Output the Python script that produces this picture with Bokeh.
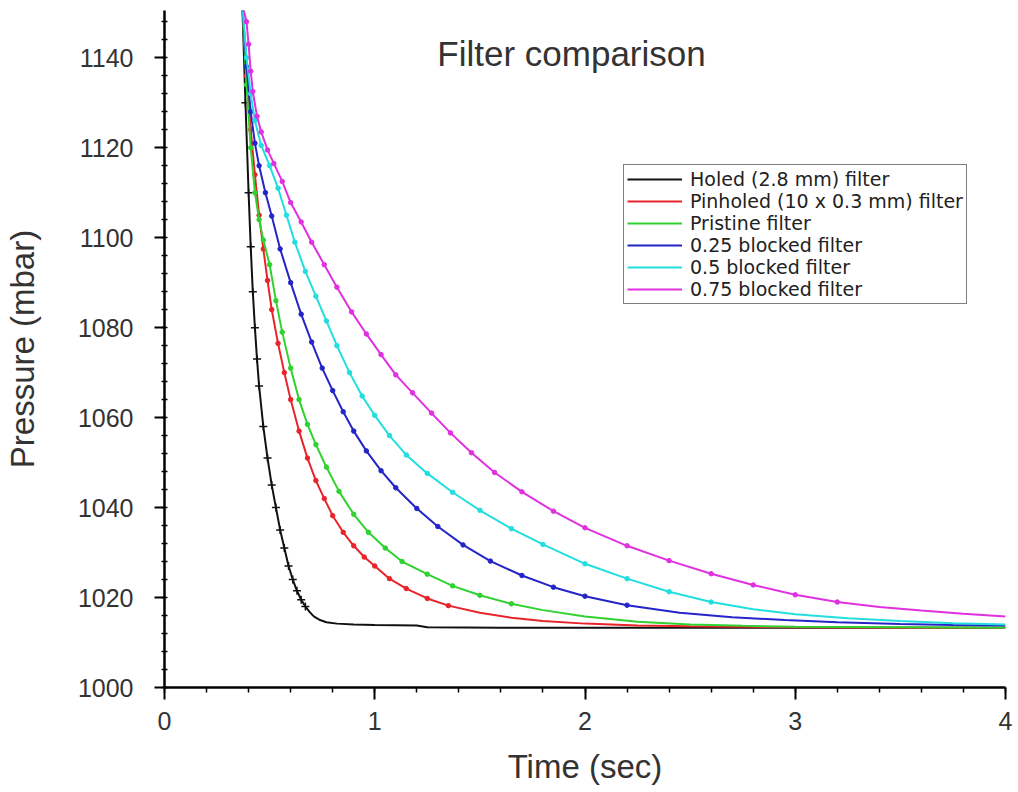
from bokeh.plotting import figure
from bokeh.models import Legend, LegendItem, Label, SingleIntervalTicker, Range1d
from bokeh.embed import file_html
from bokeh.resources import INLINE

# ---------------- data ----------------
series_names = ["Holed (2.8 mm) filter", "Pinholed (10 x 0.3 mm) filter", "Pristine filter",
                "0.25 blocked filter", "0.5 blocked filter", "0.75 blocked filter"]
series_colors = ["#111111", "#e8242a", "#2fd22f", "#2424c8", "#22dede", "#e030e0"]

holed_t = [0.37, 0.385, 0.40, 0.41, 0.42, 0.43, 0.44, 0.45, 0.47, 0.49, 0.51, 0.53, 0.55, 0.57, 0.59,
           0.61, 0.63, 0.65, 0.67, 0.69, 0.71, 0.74, 0.77, 0.82, 0.90, 1.00, 1.20, 1.25, 1.60, 2.0,
           2.5, 3.0, 3.5, 4.0]
holed_p = [1152, 1130, 1110, 1098, 1088, 1080, 1073, 1067, 1058, 1051, 1045, 1040, 1035, 1031, 1027,
           1024, 1021.5, 1019.5, 1018, 1016.8, 1015.8, 1015, 1014.5, 1014.2, 1014, 1013.9, 1013.8,
           1013.4, 1013.3, 1013.3, 1013.3, 1013.3, 1013.3, 1013.3]

pinholed_t = [0.37, 0.39, 0.41, 0.43, 0.45, 0.47, 0.49, 0.51, 0.54, 0.57, 0.60, 0.64, 0.68, 0.72, 0.76,
              0.80, 0.85, 0.90, 0.95, 1.00, 1.07, 1.15, 1.25, 1.35, 1.50, 1.65, 1.80, 2.0, 2.25, 2.5,
              3.0, 3.5, 4.0]
pinholed_p = [1152, 1136, 1124, 1114, 1105, 1097.5, 1090.5, 1084, 1076.5, 1070, 1064, 1057, 1051, 1046,
              1042, 1038.2, 1034.5, 1031.5, 1029, 1027, 1024.2, 1022, 1019.8, 1018.2, 1016.6, 1015.5,
              1014.8, 1014.2, 1013.8, 1013.6, 1013.4, 1013.3, 1013.3]

pristine_t = [0.37, 0.39, 0.41, 0.43, 0.45, 0.47, 0.50, 0.53, 0.56, 0.60, 0.64, 0.68, 0.72, 0.77, 0.83,
              0.90, 0.97, 1.05, 1.13, 1.25, 1.37, 1.50, 1.65, 1.80, 2.0, 2.25, 2.5, 2.75, 3.0, 3.5, 4.0]
pristine_p = [1152, 1134, 1120, 1110, 1104, 1099.5, 1094, 1086, 1079, 1071, 1064, 1058.5, 1054, 1049,
              1043.6, 1038.5, 1034.5, 1031, 1028, 1025.2, 1022.6, 1020.5, 1018.6, 1017.2, 1015.8,
              1014.6, 1014.0, 1013.7, 1013.5, 1013.4, 1013.3]

blocked25_t = [0.37, 0.39, 0.41, 0.43, 0.45, 0.48, 0.51, 0.55, 0.60, 0.65, 0.70, 0.75, 0.80, 0.85, 0.90,
               0.96, 1.03, 1.10, 1.20, 1.30, 1.42, 1.55, 1.70, 1.85, 2.0, 2.2, 2.45, 2.7, 2.95, 3.2,
               3.5, 3.75, 4.0]
blocked25_p = [1152, 1138, 1128, 1121, 1116, 1110, 1104.8, 1097.5, 1090, 1083, 1076.8, 1071, 1066,
               1061.3, 1057, 1052.6, 1048.2, 1044.4, 1039.8, 1035.8, 1031.7, 1028.1, 1024.9, 1022.3,
               1020.3, 1018.3, 1016.6, 1015.6, 1015.0, 1014.5, 1014.1, 1013.9, 1013.8]

blocked50_t = [0.37, 0.39, 0.41, 0.43, 0.46, 0.50, 0.54, 0.58, 0.62, 0.67, 0.72, 0.77, 0.82, 0.88, 0.94,
               1.00, 1.07, 1.15, 1.25, 1.37, 1.50, 1.65, 1.80, 2.0, 2.2, 2.4, 2.6, 2.8, 3.0, 3.25,
               3.5, 3.75, 4.0]
blocked50_p = [1152, 1140, 1132, 1126, 1120.5, 1116, 1111, 1105, 1099, 1092.5, 1087, 1081.5, 1076,
               1070, 1064.8, 1060.5, 1056, 1051.7, 1047.6, 1043.4, 1039.4, 1035.3, 1031.8, 1027.5,
               1024.2, 1021.3, 1019, 1017.4, 1016.3, 1015.4, 1014.8, 1014.3, 1014.0]

blocked75_t = [0.37, 0.39, 0.40, 0.41, 0.42, 0.44, 0.46, 0.49, 0.52, 0.56, 0.60, 0.65, 0.70, 0.76, 0.82,
               0.89, 0.96, 1.03, 1.10, 1.18, 1.27, 1.36, 1.46, 1.57, 1.70, 1.85, 2.0, 2.2, 2.4, 2.6,
               2.8, 3.0, 3.2, 3.4, 3.6, 3.8, 4.0]
blocked75_p = [1152, 1148, 1143, 1137, 1132.5, 1127, 1123.5, 1119.5, 1116.5, 1112.5, 1107.8, 1103.5,
               1099, 1094, 1089, 1083.5, 1078.6, 1074, 1069.5, 1065.5, 1061, 1056.6, 1052.2, 1047.8,
               1043.5, 1039.2, 1035.5, 1031.5, 1028.2, 1025.3, 1022.8, 1020.6, 1019, 1017.9, 1017.1,
               1016.4, 1015.8]

series_t = [holed_t, pinholed_t, pristine_t, blocked25_t, blocked50_t, blocked75_t]
series_p = [holed_p, pinholed_p, pristine_p, blocked25_p, blocked50_p, blocked75_p]

x_ticks_interval = 1
y_ticks_interval = 20
title_text = "Filter comparison"
x_label = "Time (sec)"
y_label = "Pressure (mbar)"

# ---------------- figure ----------------
FONT = "Liberation Sans"
TXT = "#333333"

p = figure(width=1012, height=790, x_range=Range1d(0, 4), y_range=Range1d(1000, 1150.5),
           output_backend="svg", toolbar_location=None,
           min_border_left=163, min_border_right=7, min_border_top=10, min_border_bottom=103)
p.outline_line_color = None
p.xgrid.visible = False
p.ygrid.visible = False
p.background_fill_color = "white"
p.border_fill_color = "white"

p.xaxis.ticker = SingleIntervalTicker(interval=x_ticks_interval, num_minor_ticks=5)
p.yaxis.ticker = SingleIntervalTicker(interval=y_ticks_interval, num_minor_ticks=5)

for ax in (p.xaxis[0], p.yaxis[0]):
    ax.axis_line_color = "black"
    ax.axis_line_width = 2.5
    ax.major_tick_line_color = "black"
    ax.major_tick_line_width = 2
    ax.minor_tick_line_color = "black"
    ax.minor_tick_line_width = 1.5
    ax.major_label_text_font = FONT
    ax.major_label_text_font_size = "25px"
    ax.major_label_text_color = TXT
    ax.axis_label_text_font = FONT
    ax.axis_label_text_font_style = "normal"
    ax.axis_label_text_color = TXT

p.xaxis.major_tick_in = 0
p.xaxis.major_tick_out = 12
p.xaxis.minor_tick_in = 0
p.xaxis.minor_tick_out = 5
p.xaxis.major_label_standoff = 12
p.xaxis.axis_label = x_label
p.xaxis.axis_label_text_font_size = "33px"
p.xaxis.axis_label_standoff = 15

p.yaxis.major_tick_in = 0
p.yaxis.major_tick_out = 10
p.yaxis.minor_tick_in = 3
p.yaxis.minor_tick_out = 3
p.yaxis.major_label_standoff = 21
p.yaxis.axis_label = y_label
p.yaxis.axis_label_text_font_size = "33px"
p.yaxis.axis_label_standoff = 34

items = []
for name, col, t, pr in zip(series_names, series_colors, series_t, series_p):
    r = p.line(t, pr, line_color=col, line_width=2)
    mt = [a for a, b in zip(t, pr) if b >= 1018]
    mp = [b for b in pr if b >= 1018]
    if col == "#111111":
        p.scatter(mt, mp, marker="cross", size=8, line_color=col, line_width=1.5)
    else:
        p.scatter(mt, mp, marker="circle", size=4.5, line_color=col, fill_color=col)
    items.append(LegendItem(label=name, renderers=[r]))

legend = Legend(items=items, location=(459, 383))
legend.label_text_font = "DejaVu Sans"
legend.label_text_font_size = "19px"
legend.label_text_color = "#222222"
legend.glyph_width = 55
legend.glyph_height = 18
legend.label_height = 18
legend.label_standoff = 8
legend.spacing = 0
legend.padding = 3
legend.margin = 0
legend.border_line_color = "black"
legend.border_line_width = 1.5
legend.background_fill_color = "white"
legend.background_fill_alpha = 1.0
p.add_layout(legend, "center")

title = Label(x=407, y=634, x_units="screen", y_units="screen", text=title_text,
              text_align="center", text_baseline="alphabetic",
              text_font=FONT, text_font_size="35px", text_color=TXT)
p.add_layout(title)

open("out.html", "w").write(file_html(p, INLINE))
